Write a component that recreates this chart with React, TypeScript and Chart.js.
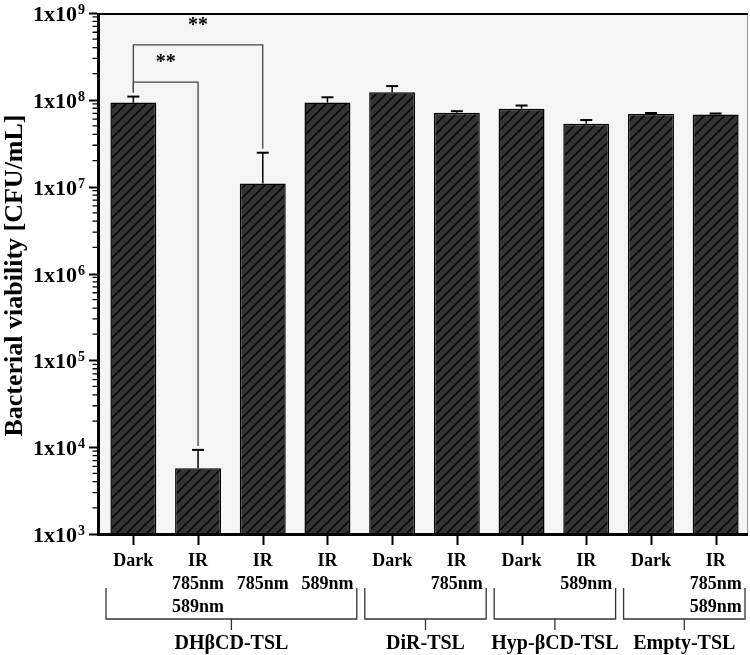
import React, { useEffect, useRef } from 'react';
import { Chart, registerables } from 'chart.js';
Chart.register(...registerables);

// ---- data ----
const categoryLines: string[][] = [
  ['Dark'],
  ['IR', '785nm', '589nm'],
  ['IR', '785nm'],
  ['IR', '589nm'],
  ['Dark'],
  ['IR', '785nm'],
  ['Dark'],
  ['IR', '589nm'],
  ['Dark'],
  ['IR', '785nm', '589nm'],
];
const viability = [9.3e7, 5.7e3, 1.09e7, 9.3e7, 1.22e8, 7.1e7, 7.9e7, 5.3e7, 6.85e7, 6.77e7];
const errorUpper = [1.09e8, 9.3e3, 2.46e7, 1.07e8, 1.44e8, 7.4e7, 8.6e7, 5.85e7, 7.05e7, 6.96e7];
const groupNames = ['DHβCD-TSL', 'DiR-TSL', 'Hyp-βCD-TSL', 'Empty-TSL'];
const groupStart = [0, 4, 6, 8];
const groupEnd = [3, 5, 7, 9];
const yExponents = [3, 4, 5, 6, 7, 8, 9];
const sigFrom = [0, 0];
const sigTo = [1, 2];
const sigLevel = [1.6e8, 4.3e8];
const sigLabel = ['**', '**'];
const yTitle = 'Bacterial viability [CFU/mL]';

const FONT = "'Liberation Serif', 'Times New Roman', serif";

function makeHatch(): CanvasPattern | string {
  const c = document.createElement('canvas');
  const s = 10;
  c.width = s;
  c.height = s;
  const g = c.getContext('2d');
  if (!g) return '#2d2d2d';
  g.fillStyle = '#333333';
  g.fillRect(0, 0, s, s);
  g.strokeStyle = '#000';
  g.lineWidth = 1.4;
  g.beginPath();
  g.moveTo(-1, s + 1); g.lineTo(s + 1, -1);
  g.moveTo(-s / 2 - 1, s / 2 + 1); g.lineTo(s / 2 + 1, -s / 2 - 1);
  g.moveTo(s / 2 - 1, s * 1.5 + 1); g.lineTo(s * 1.5 + 1, s / 2 - 1);
  g.stroke();
  const p = g.createPattern(c, 'repeat');
  return p || '#2d2d2d';
}

const decorPlugin = {
  id: 'decor',
  beforeDraw(chart: any) {
    const { ctx, chartArea: a } = chart;
    ctx.save();
    ctx.fillStyle = '#ffffff';
    ctx.fillRect(0, 0, chart.width, chart.height);
    ctx.fillStyle = '#f5f5f5';
    ctx.fillRect(a.left - 1, a.top, a.right - a.left + 1, a.bottom - a.top);
    ctx.restore();
  },
  afterDraw(chart: any) {
    const { ctx, chartArea: a } = chart;
    const x = chart.scales.x;
    const y = chart.scales.y;
    const n = viability.length;
    const catW = (a.right - a.left) / n;
    ctx.save();

    // frame
    ctx.strokeStyle = '#999';
    ctx.lineWidth = 1;
    ctx.beginPath();
    ctx.moveTo(a.right - 0.5, a.top);
    ctx.lineTo(a.right - 0.5, a.bottom);
    ctx.stroke();
    ctx.strokeStyle = '#000';
    ctx.lineWidth = 2;
    ctx.beginPath();
    ctx.moveTo(a.left - 4, a.top + 1);
    ctx.lineTo(a.right, a.top + 1);
    ctx.stroke();
    ctx.lineWidth = 3;
    ctx.beginPath();
    ctx.moveTo(a.left - 2.5, a.top);
    ctx.lineTo(a.left - 2.5, a.bottom + 2);
    ctx.moveTo(a.left - 4, a.bottom + 0.5);
    ctx.lineTo(a.right, a.bottom + 0.5);
    ctx.stroke();

    // y ticks
    const axX = a.left - 4;
    ctx.lineWidth = 2;
    ctx.beginPath();
    yExponents.forEach((e) => {
      const py = Math.round(y.getPixelForValue(Math.pow(10, e))) + 0.5;
      ctx.moveTo(axX - 8, py);
      ctx.lineTo(axX, py);
    });
    ctx.stroke();
    ctx.lineWidth = 1.3;
    ctx.beginPath();
    yExponents.slice(0, -1).forEach((e) => {
      for (let m = 2; m <= 9; m++) {
        const py = y.getPixelForValue(m * Math.pow(10, e));
        ctx.moveTo(axX - 4.5, py);
        ctx.lineTo(axX, py);
      }
    });
    ctx.stroke();

    // y tick labels
    ctx.fillStyle = '#000';
    yExponents.forEach((e) => {
      const py = y.getPixelForValue(Math.pow(10, e));
      ctx.font = `bold 22px ${FONT}`;
      ctx.textAlign = 'right';
      ctx.textBaseline = 'alphabetic';
      ctx.fillText('1x10', 77, py + 8);
      ctx.font = `bold 14px ${FONT}`;
      ctx.textAlign = 'left';
      ctx.fillText(String(e), 78, py + 1);
    });

    // y title
    ctx.save();
    ctx.translate(15, (a.top + a.bottom) / 2 + 2);
    ctx.rotate(-Math.PI / 2);
    ctx.font = `bold 26px ${FONT}`;
    ctx.textAlign = 'center';
    ctx.textBaseline = 'middle';
    ctx.fillText(yTitle, 0, 0);
    ctx.restore();

    // x ticks and labels
    ctx.lineWidth = 2;
    ctx.beginPath();
    for (let i = 0; i < n; i++) {
      const px = Math.round(x.getPixelForValue(i)) + 0.5;
      ctx.moveTo(px, a.bottom + 2);
      ctx.lineTo(px, a.bottom + 11);
    }
    ctx.stroke();
    ctx.font = `bold 18px ${FONT}`;
    ctx.textAlign = 'center';
    ctx.textBaseline = 'middle';
    categoryLines.forEach((lines, i) => {
      const px = x.getPixelForValue(i);
      lines.forEach((t, k) => {
        ctx.fillText(t, px, a.bottom + 27 + k * 23);
      });
    });

    // group brackets
    ctx.strokeStyle = '#333';
    ctx.lineWidth = 1.3;
    groupNames.forEach((name, g) => {
      const l = x.getPixelForValue(groupStart[g]) - catW / 2 + 5;
      const r = x.getPixelForValue(groupEnd[g]) + catW / 2 - 3;
      const yTop = a.bottom + 54;
      const yH = a.bottom + 85;
      const mid = (l + r) / 2;
      ctx.beginPath();
      ctx.moveTo(l, yTop);
      ctx.lineTo(l, yH);
      ctx.lineTo(r, yH);
      ctx.lineTo(r, yTop);
      ctx.moveTo(mid, yH);
      ctx.lineTo(mid, yH + 11);
      ctx.stroke();
      ctx.font = `bold 20px ${FONT}`;
      ctx.fillStyle = '#000';
      ctx.fillText(name, mid, a.bottom + 110);
    });

    // error bars
    ctx.strokeStyle = '#000';
    for (let i = 0; i < n; i++) {
      const px = x.getPixelForValue(i);
      const pTop = y.getPixelForValue(viability[i]);
      const pErr = y.getPixelForValue(errorUpper[i]);
      ctx.lineWidth = 1.5;
      ctx.beginPath();
      ctx.moveTo(px, pTop);
      ctx.lineTo(px, pErr);
      ctx.stroke();
      ctx.lineWidth = 2;
      ctx.beginPath();
      ctx.moveTo(px - 6, pErr);
      ctx.lineTo(px + 6, pErr);
      ctx.stroke();
    }

    // significance brackets
    ctx.strokeStyle = '#444';
    ctx.lineWidth = 1.3;
    sigFrom.forEach((f, k) => {
      const t = sigTo[k];
      const x1 = x.getPixelForValue(f);
      const x2 = x.getPixelForValue(t);
      const ly = y.getPixelForValue(sigLevel[k]);
      const y1 = y.getPixelForValue(errorUpper[f]) - 4;
      const y2 = y.getPixelForValue(errorUpper[t]) - 4;
      ctx.beginPath();
      ctx.moveTo(x1, y1);
      ctx.lineTo(x1, ly);
      ctx.lineTo(x2, ly);
      ctx.lineTo(x2, y2);
      ctx.stroke();
      ctx.font = `bold 20px ${FONT}`;
      ctx.fillStyle = '#000';
      ctx.textAlign = 'center';
      ctx.textBaseline = 'alphabetic';
      ctx.fillText(sigLabel[k], (x1 + x2) / 2, ly - 14);
    });

    ctx.restore();
  },
};

export default function App() {
  const ref = useRef<HTMLCanvasElement | null>(null);
  useEffect(() => {
    document.body.style.margin = '0';
    const canvas = ref.current;
    if (!canvas) return;
    const hatch = makeHatch();
    const chart = new Chart(canvas, {
      type: 'bar',
      data: {
        labels: categoryLines.map((l) => l.join(' ')),
        datasets: [
          {
            data: viability,
            backgroundColor: hatch as any,
            borderColor: '#000',
            borderWidth: 1.5,
            barPercentage: 0.71,
            categoryPercentage: 1,
          },
        ],
      },
      options: {
        animation: false,
        responsive: false,
        devicePixelRatio: 1,
        layout: { padding: { left: 101, right: 2, top: 13, bottom: 121 } },
        plugins: { legend: { display: false }, tooltip: { enabled: false } },
        scales: {
          x: { display: false },
          y: { type: 'logarithmic', min: 1e3, max: 1e9, display: false },
        },
      },
      plugins: [decorPlugin],
    });
    return () => chart.destroy();
  }, []);
  return (
    <canvas ref={ref} width={750} height={655} style={{ display: 'block', width: 750, height: 655 }} />
  );
}
